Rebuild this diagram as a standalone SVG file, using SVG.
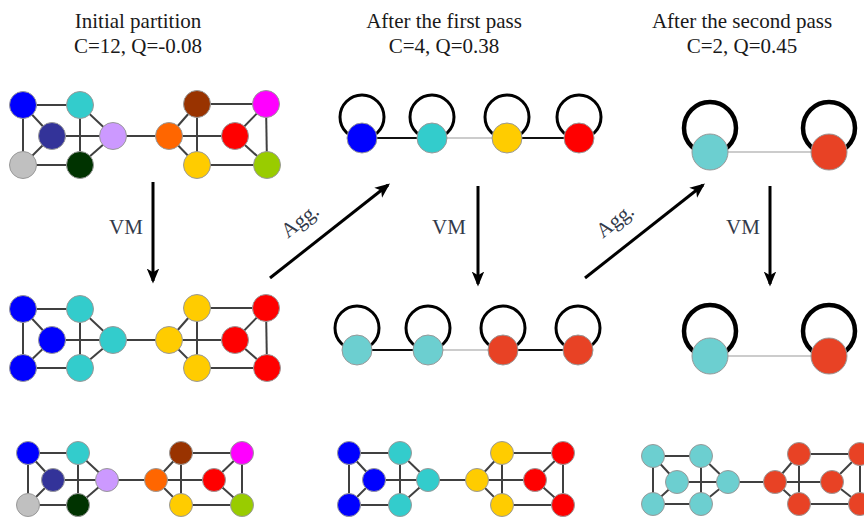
<svg xmlns="http://www.w3.org/2000/svg" width="864" height="517" viewBox="0 0 864 517">
<style>
.t{font-family:"Liberation Serif","Times New Roman",serif;font-size:21px;fill:#1a1a1a;text-anchor:middle}
.lab{font-family:"Liberation Serif","Times New Roman",serif;font-size:21px;fill:#333a4a;text-anchor:middle}
.e{stroke:#404040;stroke-width:2;fill:none}
.n circle{stroke:#999;stroke-width:1}
.loop{fill:none;stroke:#000;stroke-width:3}
.loop2{fill:none;stroke:#000;stroke-width:4.5}
.arr{stroke:#000;stroke-width:3;fill:none;marker-end:url(#ah)}
.thick{stroke:#111;stroke-width:2.2}
.thin{stroke:#999;stroke-width:1.2}
</style>
<defs>
<marker id="ah" viewBox="0 0 12 10" refX="10" refY="5" markerWidth="5" markerHeight="4.4" markerUnits="strokeWidth" orient="auto">
<path d="M0,0 L12,5 L0,10 L3,5 Z" fill="#000"/>
</marker>
</defs>

<g id="titles">
<text class="t" x="138" y="28">Initial partition</text>
<text class="t" x="138" y="53">C=12, Q=-0.08</text>
<text class="t" x="444" y="28">After the first pass</text>
<text class="t" x="444" y="53">C=4, Q=0.38</text>
<text class="t" x="742" y="28">After the second pass</text>
<text class="t" x="742" y="53">C=2, Q=0.45</text>
</g>

<g id="connectors">
<g class="e">
<line x1="23" y1="105" x2="80" y2="105"/><line x1="23" y1="105" x2="23" y2="165"/><line x1="23" y1="105" x2="52" y2="136"/>
<line x1="52" y1="136" x2="23" y2="165"/><line x1="52" y1="136" x2="113" y2="136"/><line x1="80" y1="105" x2="80" y2="165"/>
<line x1="80" y1="105" x2="113" y2="136"/><line x1="113" y1="136" x2="80" y2="165"/><line x1="23" y1="165" x2="80" y2="165"/>
<line x1="113" y1="136" x2="169" y2="136"/>
<line x1="197" y1="104" x2="266" y2="104"/><line x1="197" y1="104" x2="197" y2="165"/><line x1="197" y1="104" x2="169" y2="136"/>
<line x1="169" y1="136" x2="235" y2="136"/><line x1="169" y1="136" x2="197" y2="165"/><line x1="266" y1="104" x2="235" y2="136"/>
<line x1="266" y1="104" x2="267" y2="165"/><line x1="235" y1="136" x2="267" y2="165"/><line x1="197" y1="165" x2="267" y2="165"/>
</g>
<g class="e">
<line x1="23" y1="309" x2="80" y2="309"/><line x1="23" y1="309" x2="23" y2="368"/><line x1="23" y1="309" x2="52" y2="340"/>
<line x1="52" y1="340" x2="23" y2="368"/><line x1="52" y1="340" x2="113" y2="340"/><line x1="80" y1="309" x2="80" y2="368"/>
<line x1="80" y1="309" x2="113" y2="340"/><line x1="113" y1="340" x2="80" y2="368"/><line x1="23" y1="368" x2="80" y2="368"/>
<line x1="113" y1="340" x2="169" y2="340"/>
<line x1="197" y1="308" x2="266" y2="308"/><line x1="197" y1="308" x2="197" y2="368"/><line x1="197" y1="308" x2="169" y2="340"/>
<line x1="169" y1="340" x2="235" y2="340"/><line x1="169" y1="340" x2="197" y2="368"/><line x1="266" y1="308" x2="235" y2="340"/>
<line x1="266" y1="308" x2="267" y2="368"/><line x1="235" y1="340" x2="267" y2="368"/><line x1="197" y1="368" x2="267" y2="368"/>
</g>
<g class="e">
<line x1="28" y1="453" x2="78" y2="453"/><line x1="28" y1="453" x2="28" y2="505"/><line x1="28" y1="453" x2="53" y2="480"/>
<line x1="53" y1="480" x2="28" y2="505"/><line x1="53" y1="480" x2="107" y2="480"/><line x1="78" y1="453" x2="78" y2="505"/>
<line x1="78" y1="453" x2="107" y2="480"/><line x1="107" y1="480" x2="78" y2="505"/><line x1="28" y1="505" x2="78" y2="505"/>
<line x1="107" y1="480" x2="156" y2="480"/>
<line x1="181" y1="453" x2="242" y2="453"/><line x1="181" y1="453" x2="181" y2="505"/><line x1="181" y1="453" x2="156" y2="480"/>
<line x1="156" y1="480" x2="214" y2="480"/><line x1="156" y1="480" x2="181" y2="505"/><line x1="242" y1="453" x2="214" y2="480"/>
<line x1="242" y1="453" x2="242" y2="505"/><line x1="214" y1="480" x2="242" y2="505"/><line x1="181" y1="505" x2="242" y2="505"/>
</g>
<g class="e">
<line x1="349" y1="453" x2="400" y2="453"/><line x1="349" y1="453" x2="349" y2="505"/><line x1="349" y1="453" x2="374" y2="480"/>
<line x1="374" y1="480" x2="349" y2="505"/><line x1="374" y1="480" x2="428" y2="480"/><line x1="400" y1="453" x2="400" y2="505"/>
<line x1="400" y1="453" x2="428" y2="480"/><line x1="428" y1="480" x2="400" y2="505"/><line x1="349" y1="505" x2="400" y2="505"/>
<line x1="428" y1="480" x2="477" y2="480"/>
<line x1="502" y1="453" x2="563" y2="453"/><line x1="502" y1="453" x2="502" y2="505"/><line x1="502" y1="453" x2="477" y2="480"/>
<line x1="477" y1="480" x2="535" y2="480"/><line x1="477" y1="480" x2="502" y2="505"/><line x1="563" y1="453" x2="535" y2="480"/>
<line x1="563" y1="453" x2="563" y2="505"/><line x1="535" y1="480" x2="563" y2="505"/><line x1="502" y1="505" x2="563" y2="505"/>
</g>
<g class="e">
<line x1="653" y1="456" x2="701" y2="456"/><line x1="653" y1="456" x2="653" y2="504"/><line x1="653" y1="456" x2="677" y2="482"/>
<line x1="677" y1="482" x2="653" y2="504"/><line x1="677" y1="482" x2="728" y2="482"/><line x1="701" y1="456" x2="701" y2="504"/>
<line x1="701" y1="456" x2="728" y2="482"/><line x1="728" y1="482" x2="701" y2="504"/><line x1="653" y1="504" x2="701" y2="504"/>
<line x1="728" y1="482" x2="775" y2="482"/>
<line x1="799" y1="454" x2="860" y2="454"/><line x1="799" y1="454" x2="799" y2="504"/><line x1="799" y1="454" x2="775" y2="482"/>
<line x1="775" y1="482" x2="832" y2="482"/><line x1="775" y1="482" x2="799" y2="504"/><line x1="860" y1="454" x2="832" y2="482"/>
<line x1="860" y1="454" x2="860" y2="504"/><line x1="832" y1="482" x2="860" y2="504"/><line x1="799" y1="504" x2="860" y2="504"/>
</g>
<line class="thick" x1="362" y1="138" x2="432" y2="138"/>
<line class="thin" x1="432" y1="138" x2="507" y2="138"/>
<line class="thick" x1="507" y1="138" x2="579" y2="138"/>
<line class="thick" x1="357" y1="350" x2="428" y2="350"/>
<line class="thin" x1="428" y1="350" x2="503" y2="350"/>
<line class="thick" x1="503" y1="350" x2="578" y2="350"/>
<line class="thin" x1="710" y1="152" x2="829" y2="152"/>
<line class="thin" x1="710" y1="356" x2="829" y2="356"/>
<circle class="loop" cx="362" cy="117" r="22"/>
<circle class="loop" cx="432" cy="117" r="22"/>
<circle class="loop" cx="507" cy="117" r="22"/>
<circle class="loop" cx="579" cy="117" r="22"/>
<circle class="loop" cx="357" cy="328" r="22"/>
<circle class="loop" cx="428" cy="328" r="22"/>
<circle class="loop" cx="503" cy="328" r="22"/>
<circle class="loop" cx="578" cy="328" r="22"/>
<circle class="loop2" cx="710" cy="128" r="26"/>
<circle class="loop2" cx="829" cy="128" r="26"/>
<circle class="loop2" cx="710" cy="331" r="26"/>
<circle class="loop2" cx="829" cy="331" r="26"/>
<line class="arr" x1="153" y1="182" x2="153" y2="281"/>
<line class="arr" x1="478" y1="186" x2="478" y2="284"/>
<line class="arr" x1="770" y1="186" x2="770" y2="284"/>
<line class="arr" x1="270" y1="278" x2="388" y2="185"/>
<line class="arr" x1="585" y1="278" x2="703" y2="185"/>
<text class="lab" x="126" y="234">VM</text>
<text class="lab" x="449" y="234">VM</text>
<text class="lab" x="743" y="234">VM</text>
<text class="lab" transform="translate(304,226) rotate(-38)">Agg.</text>
<text class="lab" transform="translate(619,226) rotate(-38)">Agg.</text>
</g>

<g class="n">
<g id="tl-a"><circle cx="23" cy="105" r="13.5" fill="#0000ff"/></g>
<g id="tl-b"><circle cx="80" cy="105" r="13.5" fill="#33cccc"/></g>
<g id="tl-c"><circle cx="52" cy="136" r="13.5" fill="#333399"/></g>
<g id="tl-d"><circle cx="113" cy="136" r="13.5" fill="#cc99ff"/></g>
<g id="tl-e"><circle cx="23" cy="165" r="13.5" fill="#c0c0c0"/></g>
<g id="tl-f"><circle cx="80" cy="165" r="13.5" fill="#003300"/></g>
<g id="tl-g"><circle cx="197" cy="104" r="13.5" fill="#993300"/></g>
<g id="tl-h"><circle cx="266" cy="104" r="13.5" fill="#ff00ff"/></g>
<g id="tl-i"><circle cx="169" cy="136" r="13.5" fill="#ff6600"/></g>
<g id="tl-j"><circle cx="235" cy="136" r="13.5" fill="#ff0000"/></g>
<g id="tl-k"><circle cx="197" cy="165" r="13.5" fill="#ffcc00"/></g>
<g id="tl-l"><circle cx="267" cy="165" r="13.5" fill="#99cc00"/></g>
</g>
<g class="n">
<g id="ml-a"><circle cx="23" cy="309" r="13.5" fill="#0000ff"/></g>
<g id="ml-b"><circle cx="80" cy="309" r="13.5" fill="#33cccc"/></g>
<g id="ml-c"><circle cx="52" cy="340" r="13.5" fill="#0000ff"/></g>
<g id="ml-d"><circle cx="113" cy="340" r="13.5" fill="#33cccc"/></g>
<g id="ml-e"><circle cx="23" cy="368" r="13.5" fill="#0000ff"/></g>
<g id="ml-f"><circle cx="80" cy="368" r="13.5" fill="#33cccc"/></g>
<g id="ml-g"><circle cx="197" cy="308" r="13.5" fill="#ffcc00"/></g>
<g id="ml-h"><circle cx="266" cy="308" r="13.5" fill="#ff0000"/></g>
<g id="ml-i"><circle cx="169" cy="340" r="13.5" fill="#ffcc00"/></g>
<g id="ml-j"><circle cx="235" cy="340" r="13.5" fill="#ff0000"/></g>
<g id="ml-k"><circle cx="197" cy="368" r="13.5" fill="#ffcc00"/></g>
<g id="ml-l"><circle cx="267" cy="368" r="13.5" fill="#ff0000"/></g>
</g>
<g class="n">
<g id="bl-a"><circle cx="28" cy="453" r="11.5" fill="#0000ff"/></g>
<g id="bl-b"><circle cx="78" cy="453" r="11.5" fill="#33cccc"/></g>
<g id="bl-c"><circle cx="53" cy="480" r="11.5" fill="#333399"/></g>
<g id="bl-d"><circle cx="107" cy="480" r="11.5" fill="#cc99ff"/></g>
<g id="bl-e"><circle cx="28" cy="505" r="11.5" fill="#c0c0c0"/></g>
<g id="bl-f"><circle cx="78" cy="505" r="11.5" fill="#003300"/></g>
<g id="bl-g"><circle cx="181" cy="453" r="11.5" fill="#993300"/></g>
<g id="bl-h"><circle cx="242" cy="453" r="11.5" fill="#ff00ff"/></g>
<g id="bl-i"><circle cx="156" cy="480" r="11.5" fill="#ff6600"/></g>
<g id="bl-j"><circle cx="214" cy="480" r="11.5" fill="#ff0000"/></g>
<g id="bl-k"><circle cx="181" cy="505" r="11.5" fill="#ffcc00"/></g>
<g id="bl-l"><circle cx="242" cy="505" r="11.5" fill="#99cc00"/></g>
</g>
<g class="n">
<g id="bm-a"><circle cx="349" cy="453" r="11.5" fill="#0000ff"/></g>
<g id="bm-b"><circle cx="400" cy="453" r="11.5" fill="#33cccc"/></g>
<g id="bm-c"><circle cx="374" cy="480" r="11.5" fill="#0000ff"/></g>
<g id="bm-d"><circle cx="428" cy="480" r="11.5" fill="#33cccc"/></g>
<g id="bm-e"><circle cx="349" cy="505" r="11.5" fill="#0000ff"/></g>
<g id="bm-f"><circle cx="400" cy="505" r="11.5" fill="#33cccc"/></g>
<g id="bm-g"><circle cx="502" cy="453" r="11.5" fill="#ffcc00"/></g>
<g id="bm-h"><circle cx="563" cy="453" r="11.5" fill="#ff0000"/></g>
<g id="bm-i"><circle cx="477" cy="480" r="11.5" fill="#ffcc00"/></g>
<g id="bm-j"><circle cx="535" cy="480" r="11.5" fill="#ff0000"/></g>
<g id="bm-k"><circle cx="502" cy="505" r="11.5" fill="#ffcc00"/></g>
<g id="bm-l"><circle cx="563" cy="505" r="11.5" fill="#ff0000"/></g>
</g>
<g class="n">
<g id="br-a"><circle cx="653" cy="456" r="11.5" fill="#6ccfd0"/></g>
<g id="br-b"><circle cx="701" cy="456" r="11.5" fill="#6ccfd0"/></g>
<g id="br-c"><circle cx="677" cy="482" r="11.5" fill="#6ccfd0"/></g>
<g id="br-d"><circle cx="728" cy="482" r="11.5" fill="#6ccfd0"/></g>
<g id="br-e"><circle cx="653" cy="504" r="11.5" fill="#6ccfd0"/></g>
<g id="br-f"><circle cx="701" cy="504" r="11.5" fill="#6ccfd0"/></g>
<g id="br-g"><circle cx="799" cy="454" r="11.5" fill="#e84225"/></g>
<g id="br-h"><circle cx="860" cy="454" r="11.5" fill="#e84225"/></g>
<g id="br-i"><circle cx="775" cy="482" r="11.5" fill="#e84225"/></g>
<g id="br-j"><circle cx="832" cy="482" r="11.5" fill="#e84225"/></g>
<g id="br-k"><circle cx="799" cy="504" r="11.5" fill="#e84225"/></g>
<g id="br-l"><circle cx="860" cy="504" r="11.5" fill="#e84225"/></g>
</g>
<g class="n">
<g id="p1-blue"><circle cx="362" cy="138" r="15" fill="#0000ff"/></g>
<g id="p1-cyan"><circle cx="432" cy="138" r="15" fill="#33cccc"/></g>
<g id="p1-yellow"><circle cx="507" cy="138" r="15" fill="#ffcc00"/></g>
<g id="p1-red"><circle cx="579" cy="138" r="15" fill="#ff0000"/></g>
<g id="p1m-a"><circle cx="357" cy="350" r="15" fill="#6ccfd0"/></g>
<g id="p1m-b"><circle cx="428" cy="350" r="15" fill="#6ccfd0"/></g>
<g id="p1m-c"><circle cx="503" cy="350" r="15" fill="#e84225"/></g>
<g id="p1m-d"><circle cx="578" cy="350" r="15" fill="#e84225"/></g>
</g>
<g class="n">
<g id="p2-teal"><circle cx="710" cy="152" r="18" fill="#6ccfd0"/></g>
<g id="p2-red"><circle cx="829" cy="152" r="18" fill="#e84225"/></g>
<g id="p2m-teal"><circle cx="710" cy="356" r="18" fill="#6ccfd0"/></g>
<g id="p2m-red"><circle cx="829" cy="356" r="18" fill="#e84225"/></g>
</g>
</svg>
